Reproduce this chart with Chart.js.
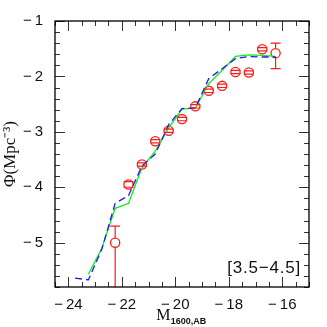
<!DOCTYPE html>
<html><head><meta charset="utf-8">
<script src="https://cdn.jsdelivr.net/npm/chart.js@4/dist/chart.umd.min.js"></script>
<style>html,body{margin:0;padding:0;background:#fff}</style>
</head><body>
<canvas id="c" width="327" height="327"></canvas>
<script>
// ---- data ----
const magBins  = [-22.25, -21.75, -21.25, -20.75, -20.25, -19.75, -19.25, -18.75, -18.25, -17.75, -17.25, -16.75, -16.25];
const phiObs   = [-5.00, -3.95, -3.59, -3.17, -2.98, -2.77, -2.54, -2.26, -2.17, -1.92, -1.93, -1.51, -1.58];
const phiLow   = [-6.50, -4.00, -3.62, -3.20, -3.01, -2.80, -2.57, -2.29, -2.20, -1.95, -1.96, -1.54, -1.86];
const phiHigh  = [-4.70, -3.90, -3.56, -3.14, -2.95, -2.74, -2.51, -2.23, -2.14, -1.89, -1.90, -1.48, -1.40];

const modelAMag = [-23.25, -22.75, -22.25, -21.75, -21.25, -20.75, -20.25, -19.75, -19.25, -18.75, -18.25, -17.75, -17.25, -16.75, -16.25];
const modelAPhi = [-5.57, -5.10, -4.38, -4.29, -3.65, -3.35, -2.93, -2.59, -2.57, -2.13, -1.89, -1.64, -1.61, -1.62, -1.64];

const modelBMag = [-23.75, -23.25, -22.75, -22.25, -21.75, -21.25, -20.75, -20.25, -19.75, -19.25, -18.75, -18.25, -17.75, -17.25, -16.75, -16.25];
const modelBPhi = [-5.64, -5.67, -5.12, -4.29, -4.15, -3.62, -3.40, -2.87, -2.58, -2.57, -2.04, -1.86, -1.68, -1.64, -1.65, -1.65];

const xTickLabels = [-24, -22, -20, -18, -16];
const yTickLabels = [-1, -2, -3, -4, -5];
const xRange = [-24.5, -15];
const yRange = [-5.8, -1];
const panelLabel = '[3.5\u22124.5]';

const pts = (xs, ys) => xs.map((v, i) => ({x: v, y: ys[i]}));
const fmt = v => '\u2212\u2009' + Math.abs(v);

const framePlugin = {
  id: 'frame',
  afterDatasetsDraw(chart) {
    const {ctx, chartArea: a, scales: {x, y}} = chart;
    ctx.save();
    ctx.beginPath(); ctx.rect(a.left, a.top, a.right - a.left, a.bottom - a.top); ctx.clip();
    ctx.strokeStyle = '#ff1a1a'; ctx.lineWidth = 1.2;
    const r = 4.6;
    magBins.forEach((m, i) => {
      const px = x.getPixelForValue(m), pc = y.getPixelForValue(phiObs[i]);
      const lo = y.getPixelForValue(phiLow[i]), hi = y.getPixelForValue(phiHigh[i]);
      ctx.beginPath();
      if (lo > pc + r) { ctx.moveTo(px, pc + r); ctx.lineTo(px, lo); }
      if (hi < pc - r) { ctx.moveTo(px, pc - r); ctx.lineTo(px, hi); }
      ctx.moveTo(px - 5, lo); ctx.lineTo(px + 5, lo);
      ctx.moveTo(px - 5, hi); ctx.lineTo(px + 5, hi);
      ctx.stroke();
    });
    ctx.restore();
  },
  afterDraw(chart) {
    const {ctx, chartArea: a, scales: {x, y}} = chart;
    ctx.save();
    // ticks (inward, all four sides)
    ctx.strokeStyle = '#333'; ctx.lineWidth = 1;
    ctx.beginPath();
    for (let v = xRange[0]; v <= xRange[1] + 1e-9; v += 0.5) {
      const px = Math.round(x.getPixelForValue(v)) + 0.5;
      const major = Math.abs(v / 2 - Math.round(v / 2)) < 1e-6;
      const L = major ? 10 : 5;
      ctx.moveTo(px, a.bottom); ctx.lineTo(px, a.bottom - L);
      ctx.moveTo(px, a.top); ctx.lineTo(px, a.top + L);
    }
    for (let k = 0; ; k++) {
      const v = -1 - k * 0.2;
      if (v < yRange[0] - 1e-9) break;
      const py = Math.round(y.getPixelForValue(v)) + 0.5;
      const major = k % 5 === 0;
      const L = major ? 10 : 5;
      ctx.moveTo(a.left, py); ctx.lineTo(a.left + L, py);
      ctx.moveTo(a.right, py); ctx.lineTo(a.right - L, py);
    }
    ctx.stroke();
    // frame
    ctx.strokeStyle = '#000'; ctx.lineWidth = 1.3;
    ctx.strokeRect(a.left, a.top, a.right - a.left, a.bottom - a.top);
    // panel label
    ctx.fillStyle = '#111';
    ctx.font = '17px "Liberation Sans", sans-serif';
    ctx.letterSpacing = '0.8px';
    ctx.textAlign = 'right'; ctx.textBaseline = 'middle';
    ctx.fillText(panelLabel, a.right - 8, a.bottom - 19);
    ctx.letterSpacing = '0px';
    // x title with subscript
    const cx = (a.left + a.right) / 2;
    ctx.font = '16px "Liberation Serif", serif';
    const wM = ctx.measureText('M').width;
    ctx.font = 'bold 9px "Liberation Sans", sans-serif';
    const wS = ctx.measureText('1600,AB').width;
    const x0 = cx - (wM + wS) / 2 - 1;
    ctx.textAlign = 'left'; ctx.textBaseline = 'alphabetic';
    ctx.font = '16px "Liberation Serif", serif';
    ctx.fillText('M', x0, 320);
    ctx.font = 'bold 9px "Liberation Sans", sans-serif';
    ctx.fillText('1600,AB', x0 + wM + 0.5, 324);
    ctx.restore();
  }
};

new Chart(document.getElementById('c'), {
  type: 'scatter',
  data: {
    datasets: [
      { data: pts(modelBMag, modelBPhi), showLine: true, borderColor: '#1a1aff', borderWidth: 1.3,
        borderDash: [7, 4], pointRadius: 0, fill: false, tension: 0 },
      { data: pts(modelAMag, modelAPhi), showLine: true, borderColor: '#11ee11', borderWidth: 1.3,
        pointRadius: 0, fill: false, tension: 0 },
      { data: pts(magBins, phiObs), showLine: false, pointStyle: 'circle', pointRadius: 4.6,
        borderColor: '#ff1a1a', backgroundColor: 'rgba(0,0,0,0)', pointBorderWidth: 1.3, borderWidth: 1.3 }
    ]
  },
  options: {
    responsive: false, animation: false,
    layout: { padding: { left: 0, right: 18, top: 18, bottom: 0 } },
    plugins: { legend: { display: false }, tooltip: { enabled: false } },
    scales: {
      x: {
        type: 'linear', min: xRange[0], max: xRange[1],
        grid: { display: false, drawTicks: false }, border: { display: false },
        afterBuildTicks: s => { s.ticks = xTickLabels.map(v => ({value: v})); },
        afterFit: s => { s.height = 40; },
        ticks: { callback: fmt, padding: 9, maxRotation: 0, autoSkip: false,
                 color: '#111', font: { family: '"Liberation Sans", sans-serif', size: 15 } }
      },
      y: {
        type: 'linear', min: yRange[0], max: yRange[1],
        grid: { display: false, drawTicks: false }, border: { display: false },
        afterBuildTicks: s => { s.ticks = yTickLabels.map(v => ({value: v})); },
        afterFit: s => { s.width = 55; },
        title: { display: true, text: '\u03A6(Mpc\u207B\u00B3)', color: '#111', padding: 0,
                 font: { family: '"Liberation Serif", serif', size: 17 } },
        ticks: { callback: fmt, padding: 12, autoSkip: false,
                 color: '#111', font: { family: '"Liberation Sans", sans-serif', size: 15 } }
      }
    }
  },
  plugins: [framePlugin]
});
</script>
</body></html>
